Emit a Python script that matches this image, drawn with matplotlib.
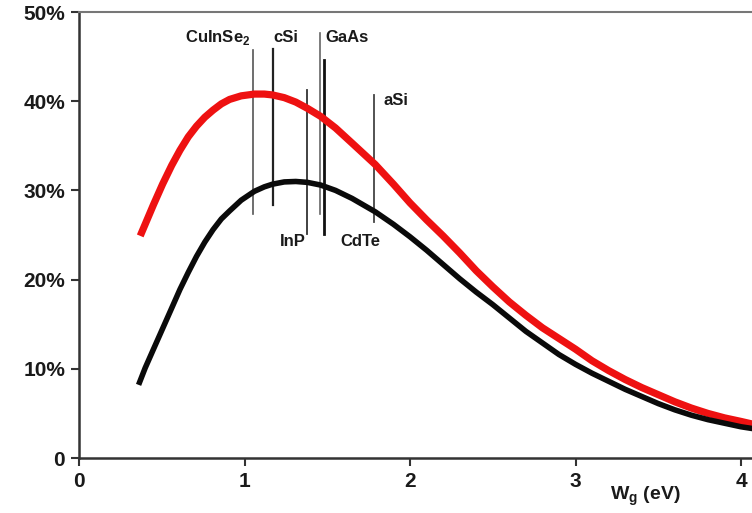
import matplotlib.pyplot as plt

plt.rcParams['font.family'] = ['Liberation Sans', 'DejaVu Sans']

# Efficiency (%) vs band gap Wg (eV): upper (red) and lower (black) limit curves
red_wg = [0.37, 0.45, 0.505, 0.56, 0.61, 0.66, 0.71, 0.76, 0.81, 0.86, 0.91,
          0.98, 1.06, 1.12, 1.17, 1.24, 1.31, 1.38, 1.46, 1.55, 1.65, 1.79,
          1.9, 2.0, 2.1, 2.2, 2.3, 2.4, 2.5, 2.6, 2.7, 2.8, 2.9, 3.0, 3.1,
          3.2, 3.3, 3.4, 3.5, 3.6, 3.7, 3.8, 3.9, 4.0, 4.07]
red_eff = [24.9, 28.4, 30.7, 32.8, 34.5, 36.0, 37.2, 38.2, 39.0, 39.7, 40.2,
           40.6, 40.8, 40.8, 40.7, 40.4, 39.9, 39.2, 38.3, 37.0, 35.3, 32.9,
           30.7, 28.6, 26.7, 24.9, 23.0, 21.0, 19.2, 17.5, 16.0, 14.6, 13.4,
           12.2, 10.9, 9.8, 8.8, 7.9, 7.1, 6.3, 5.6, 5.0, 4.5, 4.1, 3.8]
black_wg = [0.36, 0.40, 0.45, 0.505, 0.56, 0.61, 0.66, 0.71, 0.76, 0.81, 0.86,
            0.91, 0.98, 1.06, 1.12, 1.17, 1.24, 1.31, 1.38, 1.46, 1.55, 1.65,
            1.79, 1.9, 2.0, 2.1, 2.2, 2.3, 2.4, 2.5, 2.6, 2.7, 2.8, 2.9, 3.0,
            3.1, 3.2, 3.3, 3.4, 3.5, 3.6, 3.7, 3.8, 3.9, 4.0, 4.07]
black_eff = [8.2, 10.1, 12.2, 14.5, 16.8, 18.9, 20.8, 22.6, 24.2, 25.6, 26.8,
             27.7, 28.9, 29.9, 30.4, 30.7, 30.95, 31.0, 30.9, 30.6, 30.0, 29.1,
             27.6, 26.2, 24.8, 23.3, 21.7, 20.1, 18.6, 17.2, 15.7, 14.2, 12.9,
             11.6, 10.5, 9.5, 8.6, 7.7, 6.9, 6.1, 5.4, 4.8, 4.3, 3.9, 3.5, 3.3]

# Band gaps of common absorber materials (vertical markers)
mat_names = ['CuInSe$_\\mathregular{2}$', 'cSi', 'InP', 'GaAs', 'CdTe', 'aSi']
mat_wg = [1.05, 1.17, 1.38, 1.455, 1.48, 1.78]
mat_top = [45.7, 45.8, 41.3, 47.7, 44.6, 40.7]
mat_bottom = [27.3, 28.4, 25.1, 27.3, 25.1, 26.5]
mat_colors = ['#555555', '#222222', '#333333', '#666666', '#111111', '#444444']
mat_widths = [1.2, 1.6, 1.3, 1.2, 2.0, 1.3]

# label anchor: (x, y, ha)
label_pos = [(0.84, 47.1, 'center'), (1.25, 47.1, 'center'), (1.29, 24.3, 'center'),
             (1.49, 47.1, 'left'), (1.70, 24.3, 'center'), (1.84, 40.1, 'left')]

yticks = [0, 10, 20, 30, 40, 50]
ytick_labels = ['0', '10%', '20%', '30%', '40%', '50%']
xticks = [0, 1, 2, 3, 4]

fig = plt.figure(figsize=(7.52, 5.13), dpi=100)
ax = fig.add_axes([79 / 752, 55 / 513, 673 / 752, 446 / 513])

for wg, top, bot, c, lw in zip(mat_wg, mat_top, mat_bottom, mat_colors, mat_widths):
    ax.plot([wg, wg], [bot, top], color=c, lw=lw, zorder=2)

ax.plot(red_wg, red_eff, color='#ee1111', lw=5.2, solid_capstyle='butt',
        solid_joinstyle='round', zorder=3)
ax.plot(black_wg, black_eff, color='#0a0a0a', lw=4.0, solid_capstyle='butt',
        solid_joinstyle='round', zorder=3)

for name, (x, y, ha) in zip(mat_names, label_pos):
    ax.text(x, y, name, ha=ha, va='center', fontsize=12, fontweight='bold',
            color='#1a1a1a', zorder=4)

ax.set_xlim(0, 673 / 165.5)
ax.set_ylim(0, 50)
ax.set_xticks(xticks)
ax.set_xticklabels([str(t) for t in xticks])
ax.set_yticks(yticks)
ax.set_yticklabels(ytick_labels)
ax.tick_params(axis='both', direction='out', length=6, width=1.5, color='#333333',
               labelsize=15, labelcolor='#1a1a1a', pad=4)
for lab in ax.get_xticklabels() + ax.get_yticklabels():
    lab.set_fontweight('bold')

ax.spines['right'].set_visible(False)
for side in ['left', 'bottom']:
    ax.spines[side].set_color('#333333')
    ax.spines[side].set_linewidth(1.8)
ax.spines['top'].set_color('#777777')
ax.spines['top'].set_linewidth(1.5)

ax.text((645 - 79) / 165.5, -4.3, 'W$_\\mathregular{g}$ (eV)', ha='center',
        va='center', fontsize=14, fontweight='bold', color='#1a1a1a')

fig.savefig('out.png', dpi=100)
